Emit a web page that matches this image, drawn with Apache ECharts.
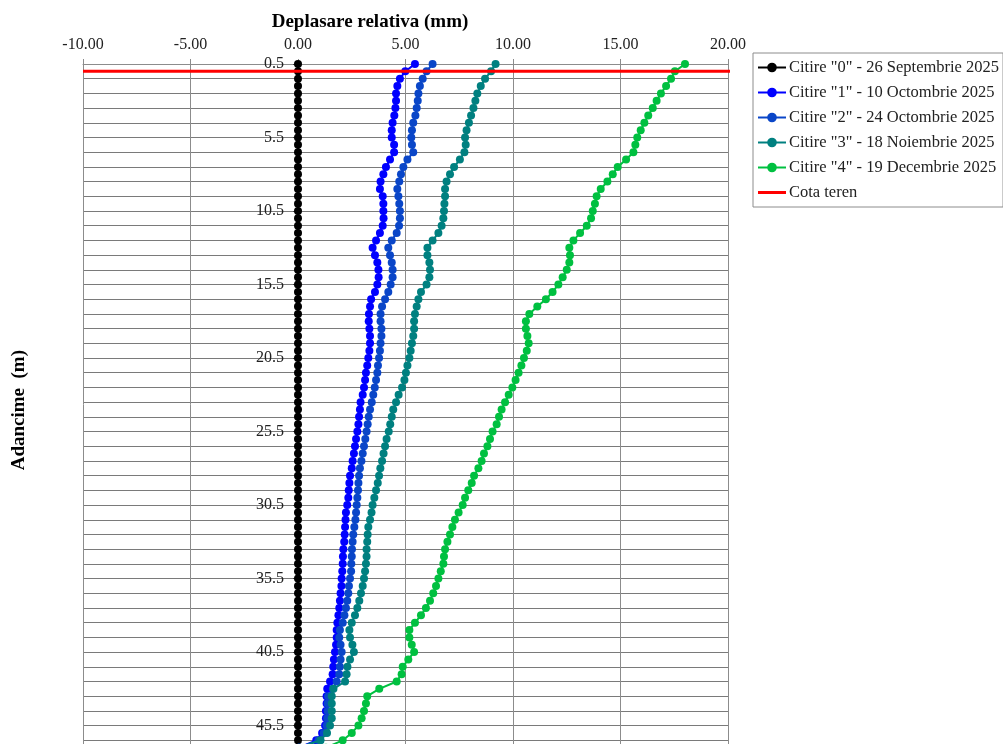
<!DOCTYPE html>
<html>
<head>
<meta charset="utf-8">
<script src="https://cdn.jsdelivr.net/npm/echarts@6/dist/echarts.min.js"></script>
<style>
html,body{margin:0;padding:0;background:#fff;}
#c{width:1003px;height:744px;}
</style>
</head>
<body>
<div id="c"></div>
<script>
// Depth (m) of each reading point
const depths = [0.5,1.0,1.5,2.0,2.5,3.0,3.5,4.0,4.5,5.0,5.5,6.0,6.5,7.0,7.5,8.0,8.5,9.0,9.5,10.0,
10.5,11.0,11.5,12.0,12.5,13.0,13.5,14.0,14.5,15.0,15.5,16.0,16.5,17.0,17.5,18.0,18.5,19.0,19.5,20.0,
20.5,21.0,21.5,22.0,22.5,23.0,23.5,24.0,24.5,25.0,25.5,26.0,26.5,27.0,27.5,28.0,28.5,29.0,29.5,30.0,
30.5,31.0,31.5,32.0,32.5,33.0,33.5,34.0,34.5,35.0,35.5,36.0,36.5,37.0,37.5,38.0,38.5,39.0,39.5,40.0,
40.5,41.0,41.5,42.0,42.5,43.0,43.5,44.0,44.5,45.0,45.5,46.0,46.5,47.0];

// Relative displacement (mm)
const citire0 = [0,0,0,0,0,0,0,0,0,0,0,0,0,0,0,0,0,0,0,0,
0,0,0,0,0,0,0,0,0,0,0,0,0,0,0,0,0,0,0,0,
0,0,0,0,0,0,0,0,0,0,0,0,0,0,0,0,0,0,0,0,
0,0,0,0,0,0,0,0,0,0,0,0,0,0,0,0,0,0,0,0,
0,0,0,0,0,0,0,0,0,0,0,0,0,0];

const citire1 = [5.44,4.99,4.74,4.62,4.56,4.56,4.53,4.48,4.40,4.36,4.36,4.47,4.47,4.28,4.09,3.97,3.84,3.81,3.94,3.97,
3.97,3.98,3.94,3.81,3.63,3.47,3.58,3.69,3.74,3.75,3.69,3.58,3.40,3.35,3.30,3.29,3.32,3.35,3.35,3.32,
3.27,3.22,3.16,3.12,3.07,3.01,2.91,2.88,2.84,2.81,2.76,2.70,2.65,2.60,2.54,2.50,2.42,2.39,2.36,2.34,
2.29,2.23,2.21,2.19,2.17,2.15,2.11,2.09,2.08,2.06,2.03,2.02,1.98,1.95,1.92,1.88,1.83,1.80,1.80,1.77,
1.72,1.67,1.64,1.61,1.49,1.36,1.33,1.33,1.30,1.30,1.26,1.12,0.85,0.05];

const citire2 = [6.26,5.98,5.80,5.67,5.60,5.57,5.52,5.46,5.36,5.30,5.27,5.30,5.36,5.09,4.90,4.79,4.71,4.62,4.67,4.71,
4.74,4.74,4.70,4.59,4.36,4.20,4.28,4.36,4.40,4.40,4.31,4.20,4.05,3.91,3.84,3.84,3.88,3.88,3.84,3.81,
3.77,3.72,3.69,3.63,3.57,3.50,3.43,3.35,3.29,3.24,3.19,3.13,3.07,3.01,2.95,2.88,2.84,2.81,2.79,2.76,
2.73,2.70,2.67,2.62,2.57,2.54,2.51,2.50,2.48,2.47,2.42,2.37,2.34,2.29,2.23,2.16,2.08,1.95,1.92,1.98,
2.03,1.98,1.95,1.92,1.80,1.62,1.40,1.38,1.38,1.36,1.33,1.20,0.95,0.05];

const citire3 = [9.19,8.98,8.70,8.50,8.34,8.25,8.16,8.05,7.95,7.84,7.77,7.80,7.74,7.53,7.26,7.07,6.91,6.84,6.84,6.81,
6.79,6.76,6.68,6.53,6.26,6.02,6.02,6.11,6.14,6.11,5.98,5.72,5.60,5.52,5.44,5.40,5.40,5.36,5.30,5.24,
5.18,5.09,5.02,4.95,4.84,4.68,4.56,4.43,4.36,4.29,4.22,4.12,4.05,3.98,3.91,3.83,3.77,3.71,3.63,3.55,
3.47,3.42,3.35,3.27,3.24,3.22,3.19,3.19,3.16,3.12,3.07,3.01,2.93,2.85,2.76,2.65,2.50,2.39,2.42,2.53,
2.60,2.42,2.30,2.26,2.19,1.65,1.57,1.57,1.57,1.57,1.49,1.35,1.05,0.05];

const citire4 = [18.00,17.53,17.35,17.12,16.88,16.68,16.50,16.29,16.11,15.94,15.78,15.69,15.60,15.26,14.87,14.64,14.39,14.08,13.89,13.81,
13.71,13.63,13.43,13.12,12.81,12.62,12.65,12.62,12.50,12.31,12.11,11.84,11.53,11.13,10.76,10.60,10.60,10.67,10.73,10.64,
10.51,10.39,10.26,10.12,9.97,9.80,9.63,9.47,9.35,9.24,9.05,8.93,8.81,8.65,8.54,8.39,8.19,8.08,7.92,7.77,
7.66,7.47,7.30,7.18,7.07,6.95,6.84,6.79,6.76,6.64,6.53,6.42,6.29,6.14,5.95,5.72,5.44,5.18,5.18,5.29,
5.40,5.13,4.87,4.82,4.59,3.78,3.22,3.16,3.07,2.96,2.81,2.50,2.08,1.30];

// Ground level line (depth, m) and its horizontal extent (mm)
const cotaTerenDepth = 1.0;
const cotaTerenX = [-10, 20.45];

const seriesNames = [
  'Citire "0" - 26 Septembrie 2025',
  'Citire "1" - 10 Octombrie 2025',
  'Citire "2" - 24 Octombrie 2025',
  'Citire "3" - 18 Noiembrie 2025',
  'Citire "4" - 19 Decembrie 2025',
  'Cota teren'
];
const seriesColors = ['#000000', '#0000ff', '#0a46c8', '#008080', '#00c040', '#ff0000'];
const readings = [citire0, citire1, citire2, citire3, citire4];

const FONT = "'Liberation Serif', 'Times New Roman', serif";

const chart = echarts.init(document.getElementById('c'), null, {renderer: 'canvas'});

const series = readings.map((vals, k) => ({
  name: seriesNames[k],
  type: 'line',
  xAxisIndex: 0,
  yAxisIndex: 0,
  data: depths.map((d, i) => [vals[i], d]),
  symbol: 'circle',
  symbolSize: 8,
  showSymbol: true,
  clip: false,
  color: seriesColors[k],
  lineStyle: {width: 2, color: seriesColors[k]},
  itemStyle: {color: seriesColors[k]},
  z: 3 + k,
  animation: false
}));
series.push({
  name: seriesNames[5],
  type: 'line',
  xAxisIndex: 0,
  yAxisIndex: 0,
  data: cotaTerenX.map(x => [x, cotaTerenDepth]),
  symbol: 'none',
  clip: false,
  color: seriesColors[5],
  lineStyle: {width: 3, color: seriesColors[5]},
  z: 10,
  animation: false
});

const legendData = seriesNames.map((n, i) => i === 5
  ? {name: n, icon: 'path://M0,0 L28,0 L28,3 L0,3 Z'}
  : {name: n});

const option = {
  animation: false,
  backgroundColor: '#ffffff',
  title: {
    text: 'Deplasare relativa (mm)',
    left: 365,
    textAlign: 'center',
    top: 8,
    textStyle: {fontFamily: FONT, fontSize: 19, fontWeight: 'bold', color: '#000'}
  },
  graphic: [{
    type: 'text',
    left: 10,
    top: 350,
    rotation: Math.PI / 2,
    style: {
      text: 'Adancime  (m)',
      font: "bold 19px 'Liberation Serif', 'Times New Roman', serif",
      fill: '#000'
    }
  }],
  legend: {
    orient: 'vertical',
    left: 753,
    top: 53,
    padding: [6, 4, 6, 4],
    itemGap: 8,
    itemWidth: 28,
    itemHeight: 12,
    borderColor: '#8c8c8c',
    borderWidth: 1,
    data: legendData,
    textStyle: {fontFamily: FONT, fontSize: 16.5, color: '#222', padding: [0, 0, 0, -2]}
  },
  grid: {
    left: 83,
    top: 64,
    width: 645,
    height: 691,
    containLabel: false,
    outerBoundsMode: 'none',
    show: false
  },
  xAxis: [{
    type: 'value',
    position: 'top',
    min: -10,
    max: 20,
    interval: 5,
    axisLine: {show: true, onZero: false, lineStyle: {color: '#8c8c8c', width: 1}},
    axisTick: {show: true, length: 5, lineStyle: {color: '#8c8c8c'}},
    axisLabel: {
      margin: 11,
      fontFamily: FONT,
      fontSize: 16,
      color: '#222',
      formatter: v => v.toFixed(2)
    },
    splitLine: {show: true, lineStyle: {color: '#8c8c8c', width: 1}}
  }],
  yAxis: [{
    type: 'value',
    inverse: true,
    min: 0.5,
    max: 47.5,
    interval: 1,
    position: 'left',
    offset: -215,
    axisLine: {show: true, onZero: false, lineStyle: {color: '#404040', width: 1}},
    axisTick: {show: false},
    axisLabel: {show: false},
    splitLine: {show: true, lineStyle: {color: '#7a7a7a', width: 1}}
  }, {
    type: 'value',
    inverse: true,
    position: 'left',
    offset: -215,
    min: 0.5,
    max: 47.5,
    interval: 5,
    axisLine: {show: false, onZero: false},
    axisTick: {show: true, length: 5, lineStyle: {color: '#404040'}},
    axisLabel: {
      show: true,
      margin: 14,
      fontFamily: FONT,
      fontSize: 16,
      color: '#222',
      showMaxLabel: false,
      formatter: v => v.toFixed(1)
    },
    splitLine: {show: false}
  }],
  series: series
};

chart.setOption(option);
</script>
</body>
</html>
